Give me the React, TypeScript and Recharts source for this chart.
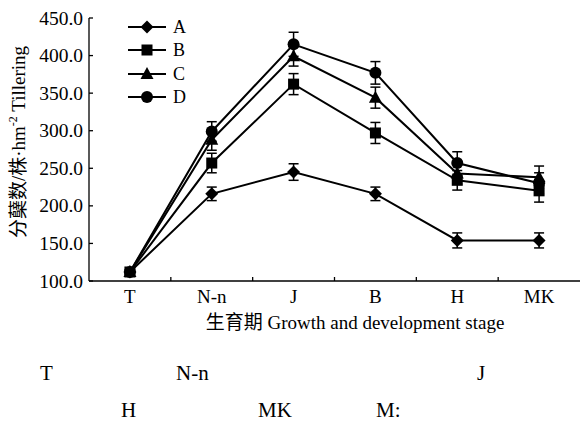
import { CartesianGrid, ErrorBar, Legend, Line, LineChart, XAxis, YAxis } from "recharts";

const categories = ["T", "N-n", "J", "B", "H", "MK"];
const seriesA = [112, 216, 245, 216, 154, 154];
const seriesB = [112, 257, 362, 297, 234, 220];
const seriesC = [112, 288, 399, 344, 243, 238];
const seriesD = [112, 299, 415, 377, 257, 230];
const errA = [3, 9, 11, 9, 10, 10];
const errB = [3, 13, 14, 14, 13, 15];
const errC = [3, 14, 13, 14, 14, 15];
const errD = [3, 13, 16, 15, 15, 14];
const yTicks = [100, 150, 200, 250, 300, 350, 400, 450];
const xTicks = [0.5, 1, 1.5, 2, 2.5, 3, 3.5, 4, 4.5, 5, 5.5];

const FONT = "'Liberation Serif', 'Times New Roman', 'Noto Sans CJK SC', serif";

const data = categories.map((name, i) => ({
	pos: i + 0.5,
	name,
	A: seriesA[i],
	B: seriesB[i],
	C: seriesC[i],
	D: seriesD[i],
	eA: errA[i],
	eB: errB[i],
	eC: errC[i],
	eD: errD[i],
}));

type Shape = "diamond" | "square" | "triangle" | "circle";

const series: { key: string; err: string; shape: Shape }[] = [
	{ key: "A", err: "eA", shape: "diamond" },
	{ key: "B", err: "eB", shape: "square" },
	{ key: "C", err: "eC", shape: "triangle" },
	{ key: "D", err: "eD", shape: "circle" },
];

function Marker({ shape, cx, cy }: { shape: Shape; cx: number; cy: number }) {
	if (shape === "diamond")
		return <polygon points={`${cx},${cy - 6.5} ${cx + 6.5},${cy} ${cx},${cy + 6.5} ${cx - 6.5},${cy}`} fill="#000" />;
	if (shape === "square") return <rect x={cx - 5.5} y={cy - 5.5} width={11} height={11} fill="#000" />;
	if (shape === "triangle")
		return <polygon points={`${cx},${cy - 7} ${cx + 6.5},${cy + 5} ${cx - 6.5},${cy + 5}`} fill="#000" />;
	return <circle cx={cx} cy={cy} r={6} fill="#000" />;
}

const makeDot = (shape: Shape) => (props: any) => {
	if (props.cx == null || props.cy == null) return <g key={props.index} />;
	return <Marker key={props.index} shape={shape} cx={props.cx} cy={props.cy} />;
};

function XTick(props: any) {
	const { x, y, payload } = props;
	const v = payload.value as number;
	if (Number.isInteger(v)) {
		return <line x1={x} y1={y} x2={x} y2={y - 4} stroke="#000" strokeWidth={1.3} />;
	}
	return (
		<text x={x} y={y + 22} textAnchor="middle" fontFamily={FONT} fontSize={19} fill="#000">
			{categories[Math.floor(v)]}
		</text>
	);
}

function YTick(props: any) {
	const { x, y, payload } = props;
	return (
		<g>
			<line x1={x} y1={y} x2={x + 4} y2={y} stroke="#000" strokeWidth={1.3} />
			<text x={x - 6} y={y + 6.5} textAnchor="end" fontFamily={FONT} fontSize={19.5} fill="#000">
				{(payload.value as number).toFixed(1)}
			</text>
		</g>
	);
}

function renderLegend() {
	return (
		<div>
			{series.map((s) => (
				<div key={s.key} style={{ display: "flex", alignItems: "center", height: 23.5 }}>
					<svg width={40} height={16}>
						<line x1={0} y1={8} x2={38} y2={8} stroke="#000" strokeWidth={2} />
						<Marker shape={s.shape} cx={19} cy={8} />
					</svg>
					<span style={{ fontFamily: FONT, fontSize: 18, marginLeft: 5, lineHeight: "16px" }}>{s.key}</span>
				</div>
			))}
		</div>
	);
}

const yLabel = () => (
	<text transform="translate(25,142) rotate(-90)" textAnchor="middle" fontFamily={FONT} fontSize={19} fill="#000">
		分蘖数/株·hm
		<tspan fontSize={12} dy={-8}>-2</tspan>
		<tspan dy={8}> Tillering</tspan>
	</text>
);

const xLabel = () => (
	<text x={355} y={329} textAnchor="middle" fontFamily={FONT} fontSize={19} fill="#000">
		生育期 Growth and development stage
	</text>
);

const caption = { position: "absolute" as const, whiteSpace: "nowrap" as const };

export default function App() {
	return (
		<div style={{ position: "absolute", left: 0, top: 0, width: 580, height: 423, background: "#fff" }}>
			<LineChart width={580} height={423} data={data} margin={{ top: 18, right: 0, bottom: 0, left: 0 }}>
				<CartesianGrid stroke="none" />
				<XAxis
					dataKey="pos"
					type="number"
					domain={[0, 6]}
					ticks={xTicks}
					interval={0}
					height={142}
					tickLine={false}
					tickSize={0}
					tickMargin={0}
					tick={<XTick />}
					axisLine={{ stroke: "#000", strokeWidth: 1.3 }}
					label={{ content: xLabel }}
				/>
				<YAxis
					domain={[100, 450]}
					ticks={yTicks}
					interval={0}
					width={89}
					tickLine={false}
					tickSize={0}
					tickMargin={0}
					tick={<YTick />}
					axisLine={{ stroke: "#000", strokeWidth: 1.3 }}
					label={{ content: yLabel }}
				/>
				<Legend
					content={renderLegend}
					layout="horizontal"
					verticalAlign="middle"
					align="center"
					wrapperStyle={{ left: 128, top: 15, width: 80, height: 94 }}
				/>
				{series.map((s) => (
					<Line
						key={s.key}
						dataKey={s.key}
						stroke="#000"
						strokeWidth={2}
						dot={makeDot(s.shape)}
						activeDot={false}
						isAnimationActive={false}
					>
						<ErrorBar dataKey={s.err} width={5} stroke="#000" strokeWidth={1.5} direction="y" />
					</Line>
				))}
			</LineChart>
			<div style={{ position: "absolute", left: 0, top: 0, fontFamily: FONT, fontSize: 21, lineHeight: 1 }}>
				<span style={{ ...caption, left: 40, top: 363 }}>T</span>
				<span style={{ ...caption, left: 176, top: 363 }}>N-n</span>
				<span style={{ ...caption, left: 477, top: 363 }}>J</span>
				<span style={{ ...caption, left: 121, top: 400 }}>H</span>
				<span style={{ ...caption, left: 258, top: 400 }}>MK</span>
				<span style={{ ...caption, left: 376, top: 400 }}>M:</span>
			</div>
		</div>
	);
}
